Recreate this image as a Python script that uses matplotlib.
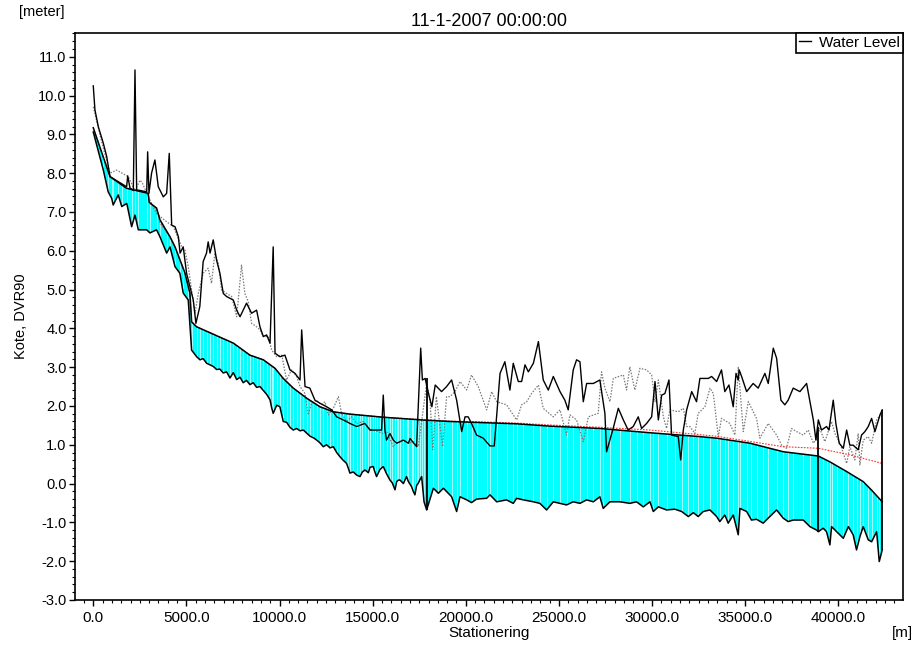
import numpy as np
import matplotlib
matplotlib.use("Agg")
import matplotlib.pyplot as plt
from matplotlib.ticker import MultipleLocator, FormatStrFormatter
from matplotlib.lines import Line2D

plt.rcParams['font.family'] = ['Liberation Sans', 'DejaVu Sans']

# ---- longitudinal profile data (chainage in m, level in m DVR90) ----
bed_x = [0, 540, 800, 990, 1070, 1340, 1530, 1800, 2060, 2240, 2420, 2870, 3040, 3400,
         3580, 3940, 4120, 4390, 4650, 4830, 5100, 5280, 5550, 5730, 5900, 6090, 6270,
         6440, 6620, 6800, 6980, 7160, 7340, 7520, 7700, 7880, 8050, 8230, 8410, 8590,
         8770, 8950, 9130, 9310, 9490, 9580, 9660, 9850, 10020, 10200, 10380, 10560,
         10740, 10920, 11100, 11280, 11460, 11640, 11820, 12000, 12170, 12350, 12530,
         12710, 12890, 13070, 13250, 13420, 13600, 13690, 13780, 13960, 14140, 14320,
         14450, 14590, 14770, 14860, 15030, 15120, 15210, 15390, 15570, 15750, 15930,
         16050, 16200, 16290, 16380, 16470, 16650, 16820, 16920, 17090, 17180, 17270,
         17360, 17450, 17540, 17630, 17760, 17900, 18260, 18530,
         18800, 19240, 19510, 19690, 20050, 20310, 20580, 21120, 21300, 21660, 22190,
         22550, 22730, 23090, 23630, 23980, 24340, 24700, 25060, 25410, 25770, 26130,
         26490, 26850, 27200, 27380, 27740, 28280, 28810, 29170, 29530, 29890, 30070,
         30340, 30780, 31230, 31590, 31950, 32220, 32480, 32750, 33110, 33470, 33640,
         33910, 34090, 34360, 34630, 34720, 35080, 35340, 35610, 35970, 36240, 36690,
         37040, 37310, 37580, 38120, 38480, 38840, 38930, 39190, 39370, 39550, 39640,
         39910, 40270, 40540, 40800, 40980, 41160, 41340, 41610, 41790, 42060, 42200,
         42360]
bed_z = [9.06, 8.08, 7.52, 7.35, 7.18, 7.44, 7.14, 7.22, 6.62, 6.92, 6.54, 6.54, 6.46, 6.54,
         6.36, 5.94, 6.10, 5.59, 5.42, 4.91, 4.73, 3.44, 3.27, 3.19, 3.22, 3.10, 3.06,
         3.02, 2.94, 2.95, 2.85, 2.88, 2.72, 2.86, 2.68, 2.74, 2.60, 2.66, 2.55, 2.60,
         2.48, 2.50, 2.40, 2.30, 2.16, 1.95, 1.81, 2.02, 1.98, 1.60, 1.58, 1.45,
         1.38, 1.42, 1.36, 1.38, 1.30, 1.22, 1.18, 1.12, 1.05, 0.95, 1.00,
         0.92, 0.95, 0.80, 0.69, 0.60, 0.52, 0.40, 0.27, 0.30, 0.22, 0.18,
         0.30, 0.35, 0.28, 0.42, 0.44, 0.30, 0.18, 0.36, 0.44, 0.25, 0.09,
         0.02, -0.16, 0.05, 0.09, 0.09, 0.00, 0.18, 0.05, -0.08, -0.20, -0.29,
         -0.05, 0.01, 0.10, 0.18, -0.47, -0.68, -0.12, -0.25,
         -0.12, -0.34, -0.72, -0.34, -0.42, -0.49, -0.40, -0.38, -0.29, -0.47, -0.42,
         -0.51, -0.38, -0.42, -0.47, -0.51, -0.68, -0.47, -0.51, -0.55, -0.47, -0.51,
         -0.42, -0.47, -0.34, -0.64, -0.47, -0.47, -0.51, -0.47, -0.60, -0.47, -0.72,
         -0.60, -0.68, -0.66, -0.72, -0.85, -0.75, -0.85, -0.72, -0.68, -0.85, -0.98,
         -0.81, -1.02, -0.81, -1.32, -0.64, -0.72, -0.94, -0.92, -1.02, -0.89, -0.68,
         -0.89, -0.98, -0.94, -0.94, -1.11, -1.20, -1.24, -1.15, -1.24, -1.58, -1.11,
         -1.24, -1.41, -1.11, -1.32, -1.71, -1.37, -1.11, -1.45, -1.50, -1.24, -2.01,
         -1.71]

wl_x = [0, 900, 1790, 2950, 3000, 3400, 3580, 4120, 4390, 4920, 5190, 5280, 5550, 7520,
        8410, 9130, 9760, 10200, 10740, 11460, 12170, 12890, 13780, 15570, 17630, 19150,
        20940, 22730, 24520, 27200, 29890, 32570, 33470, 35260, 37050, 38930, 39550,
        40450, 41340, 41790, 42360]
wl_z = [9.17, 7.91, 7.61, 7.48, 7.25, 7.10, 6.80, 6.36, 6.10, 5.43, 4.91, 4.17, 4.04, 3.62,
        3.31, 3.19, 2.97, 2.71, 2.46, 2.20, 1.98, 1.85, 1.79, 1.71, 1.64, 1.60,
        1.57, 1.54, 1.48, 1.42, 1.31, 1.21, 1.17, 1.04, 0.82, 0.71, 0.56,
        0.31, 0.05, -0.17, -0.47]

red_x = [0, 900, 1790, 2950, 3040, 3400, 3580, 4120, 4390, 4920, 5190, 5280, 5550, 7520,
         8410, 9130, 9760, 10200, 10740, 11460, 12170, 12890, 13780, 15570, 17630, 19150,
         20940, 22730, 24520, 27200, 29890, 33470, 37050, 38930, 40620, 42360]
red_z = [9.17, 7.91, 7.61, 7.48, 7.22, 7.10, 6.72, 6.36, 6.10, 5.43, 4.91, 4.17, 4.04, 3.62,
         3.31, 3.19, 2.97, 2.71, 2.46, 2.20, 1.98, 1.85, 1.79, 1.71, 1.65, 1.61,
         1.59, 1.56, 1.51, 1.45, 1.38, 1.22, 0.95, 0.91, 0.74, 0.52]

lb_x = [0, 90, 270, 540, 720, 900, 1790, 1850, 1970, 2150, 2240, 2330, 2870, 2920, 2990,
        3130, 3310, 3490, 3760, 3940, 4080, 4210, 4390, 4570, 4660, 4830, 5010, 5190, 5370,
        5510, 5720, 5900, 6080, 6170, 6270, 6440, 6620, 6800, 6980, 7160, 7520, 7700, 7880,
        8230, 8500, 8770, 8950, 9130, 9310, 9490, 9660, 9760, 10020, 10290, 10560, 10830,
        11100, 11190, 11370, 11630, 11900, 12170, 12530, 12800, 13070, 13420, 13780, 14140,
        14580, 14860, 15210, 15480, 15570, 15660, 15750, 15930, 16110, 16290, 16650, 16920,
        17010, 17360, 17580, 17670, 17820, 18000, 18180, 18360, 18700, 18970, 19240, 19510,
        19780, 19960, 20130, 20310, 20580, 20940, 21300, 21530, 21840, 22100, 22370, 22550,
        22820, 23000, 23180, 23360, 23630, 23900, 24160, 24430, 24700, 25060, 25320, 25500,
        25770, 25950, 26130, 26310, 26490, 26850, 27200, 27470, 27560, 27920, 28190, 28460,
        28720, 28990, 29260, 29440, 29710, 29980, 30160, 30340, 30520, 30690, 30910, 31050,
        31410, 31540, 31680, 31860, 32130, 32390, 32570, 33020, 33200, 33470, 33730, 33910,
        34130, 34360, 34510, 34630, 34680, 34810, 35080, 35430, 35700, 36060, 36240, 36510,
        36690, 36920, 37130, 37310, 37580, 37940, 38300, 38660, 38800, 38930, 39100, 39370,
        39500, 39730, 39870, 40050, 40270, 40450, 40620, 40800, 41070, 41250, 41430, 41610,
        41790, 41970, 42240, 42360]
lb_z = [10.25, 9.63, 9.20, 8.77, 8.43, 7.91, 7.65, 7.93, 7.62, 7.55, 10.66, 7.57, 7.52, 8.55,
        7.48, 8.00, 8.34, 7.65, 7.39, 7.48, 8.51, 6.66, 6.62, 6.36, 5.94, 6.10, 5.42, 5.07,
        4.73, 4.13, 4.56, 5.72, 5.94, 6.23, 5.94, 6.28, 5.76, 5.42, 4.90, 4.82, 4.73, 4.47,
        4.30, 4.65, 4.39, 4.47, 4.04, 3.79, 3.83, 3.62, 6.10, 3.36, 3.27, 3.31, 2.93, 2.84,
        2.67, 3.96, 2.50, 2.46, 2.15, 2.07, 1.98, 1.90, 1.72, 1.64, 1.55, 1.47,
        1.55, 1.38, 1.38, 1.38, 2.28, 1.38, 1.12, 1.29, 1.12, 1.04, 1.12, 1.04,
        1.16, 0.95, 3.49, 2.67, 2.71, 2.32, 1.98, 2.54, 2.37, 2.50, 2.67, 2.15,
        1.34, 1.72, 1.72, 1.55, 1.25, 1.17, 0.97, 0.97, 2.84, 3.14, 2.41, 3.10,
        2.63, 2.63, 3.06, 2.88, 3.10, 3.66, 2.67, 2.41, 2.76, 2.37, 2.15, 1.90,
        2.93, 3.19, 3.14, 2.11, 2.58, 2.58, 2.67, 1.81, 0.82, 1.43, 1.94, 1.64,
        1.38, 1.47, 1.72, 1.42, 1.55, 1.72, 2.63, 1.64, 2.28, 2.32, 2.67, 1.25,
        1.21, 0.61, 1.38, 1.90, 2.37, 2.11, 2.71, 2.71, 2.76, 2.63, 2.93, 2.37,
        2.54, 1.98, 2.84, 2.67, 2.93, 2.76, 2.37, 2.58, 2.46, 2.84, 2.58, 3.49,
        3.23, 2.15, 2.03, 2.15, 2.46, 2.37, 2.58, 1.64, 1.12, 1.64, 1.38, 1.47,
        1.38, 2.15, 1.55, 1.04, 0.91, 1.38, 0.99, 0.99, 0.87, 1.25, 1.34, 1.47,
        1.68, 1.34, 1.77, 1.90]

rb_x = [0, 130, 470, 900, 1250, 1880, 2240, 2510, 2640, 3040, 3400, 3800, 4300, 4750, 4920,
        5100, 5280, 5460, 5640, 5900, 6170, 6350, 6530, 6710, 6890, 7160, 7430, 7700, 7960,
        8140, 8320, 8500, 8770, 8950, 9130, 9400, 9580, 9850, 10120, 10380, 10650, 10920,
        11100, 11370, 11540, 11720, 11990, 12260, 12440, 12620, 12890, 13160, 13330, 13600,
        13870, 14140, 14500, 14860, 15210, 15570, 15750, 16110, 16290, 16650, 16920, 17180,
        17450, 17900, 18080, 18230, 18420, 18760, 18970, 19150, 19420, 19690, 20050, 20310,
        20670, 21120, 21390, 21660, 22190, 22550, 22730, 23000, 23270, 23530, 23900, 24160,
        24700, 25060, 25410, 25590, 25950, 26310, 26580, 27110, 27290, 27470, 27740, 27920,
        28460, 28630, 28810, 29080, 29350, 29710, 29980, 30160, 30340, 30610, 30780, 30960,
        31410, 31680, 31860, 32040, 32300, 32480, 32840, 33110, 33290, 33560, 33730, 34180,
        34450, 34630, 34900, 35170, 35610, 35790, 36240, 36690, 36960, 37220, 37490, 37760,
        38120, 38390, 38660, 38840, 39010, 39280, 39640, 39820, 40090, 40450, 40620, 40890,
        41070, 41160, 41340, 41610, 41790, 42060, 42240]
rb_z = [9.71, 9.45, 8.77, 8.00, 8.08, 7.91, 7.55, 7.82, 7.74, 7.31, 6.96, 6.80, 6.62, 6.10, 6.02,
        5.59, 4.99, 4.39, 4.90, 5.42, 5.55, 5.16, 5.94, 5.68, 4.99, 4.90, 4.82, 4.30, 5.63,
        4.90, 4.69, 4.13, 4.04, 3.96, 3.79, 3.79, 3.44, 3.27, 3.31, 2.67, 2.93, 2.76,
        2.50, 2.32, 1.77, 2.07, 2.15, 2.03, 2.11, 1.77, 1.94, 2.24, 1.81, 1.60,
        1.72, 1.55, 1.60, 1.38, 1.35, 1.29, 1.35, 0.95, 1.04, 1.12, 1.04, 1.08,
        0.95, 2.58, 2.15, 0.87, 2.24, 0.95, 2.24, 2.24, 2.37, 2.63, 2.41, 2.80,
        2.50, 1.90, 2.37, 2.11, 2.03, 1.77, 1.64, 2.03, 2.11, 2.32, 2.54, 1.94,
        1.72, 1.90, 1.25, 1.77, 1.64, 1.08, 1.72, 1.81, 2.88, 2.46, 2.11, 2.71,
        2.80, 2.41, 3.01, 2.41, 2.97, 2.93, 2.80, 2.11, 2.67, 1.72, 1.42, 1.90,
        1.85, 1.94, 1.47, 1.47, 1.29, 1.81, 1.98, 2.46, 2.32, 1.21, 1.68, 1.55,
        1.25, 3.01, 1.34, 2.11, 1.68, 1.17, 1.55, 1.25, 0.99, 0.91, 1.42, 1.34,
        1.25, 1.38, 1.04, 1.17, 1.42, 1.08, 1.60, 1.29, 1.04, 0.52, 0.95, 0.61,
        1.29, 0.48, 1.12, 1.21, 1.04, 1.64, 1.77]

# structures / section ends drawn as vertical bars (chainage, top, bottom)
struct_x = [17900, 38930, 42360]
struct_top = [2.71, 1.47, 1.90]
struct_bot = [-0.68, -1.24, -1.71]

fig = plt.figure(figsize=(9.13, 6.45), dpi=100)
ax = fig.add_axes([0.0821, 0.0698, 0.9069, 0.8795])

# water body between bed and water level
poly_x = np.concatenate([wl_x, bed_x[::-1]])
poly_z = np.concatenate([wl_z, bed_z[::-1]])
water = ax.fill(poly_x, poly_z, facecolor='#00ffff', edgecolor='none', zorder=1)[0]

# cross-section markers clipped to the water body
xs_lines = ax.vlines(bed_x, -3.0, 12.0, colors='white', linewidth=0.6, alpha=0.75, zorder=2)
xs_lines.set_clip_path(water)

ax.plot(rb_x, rb_z, color='#7a7a7a', linewidth=0.9, linestyle=(0, (1.2, 1.2)), zorder=3)
ax.plot(red_x, red_z, color='#ff3030', linewidth=0.8, linestyle=(0, (1.5, 1.2)), zorder=3)
ax.plot(lb_x, lb_z, color='black', linewidth=1.0, zorder=4)
ax.plot(bed_x, bed_z, color='black', linewidth=1.1, zorder=4)
ax.plot(wl_x, wl_z, color='black', linewidth=1.1, zorder=4)
ax.vlines(struct_x, struct_bot, struct_top, colors='black', linewidth=1.3, zorder=4)

ax.set_xlim(-983, 43473)
ax.set_ylim(-3.0, 11.62)

ax.xaxis.set_major_locator(MultipleLocator(5000))
ax.xaxis.set_minor_locator(MultipleLocator(500))
ax.yaxis.set_major_locator(MultipleLocator(1.0))
ax.yaxis.set_minor_locator(MultipleLocator(0.2))
ax.xaxis.set_major_formatter(FormatStrFormatter('%.1f'))
ax.yaxis.set_major_formatter(FormatStrFormatter('%.1f'))
ax.set_xticks([t for t in np.arange(0, 40001, 5000)])

ax.tick_params(which='major', direction='out', length=4, width=1.0, labelsize=10.5, pad=2)
ax.tick_params(axis='x', which='major', pad=4)
ax.tick_params(which='minor', direction='out', length=2.5, width=0.8)
for lab in ax.get_xticklabels():
    lab.set_fontsize(11)
for sp in ax.spines.values():
    sp.set_linewidth(1.2)

ax.set_title('11-1-2007 00:00:00', fontsize=13, pad=5)
ax.set_xlabel('Stationering', fontsize=11, labelpad=1)
ax.set_ylabel('Kote, DVR90', fontsize=10.5, labelpad=7)
fig.text(42 / 913, 1 - 12 / 645, '[meter]', fontsize=10.5, ha='center', va='center')
fig.text(902 / 913, 1 - 633 / 645, '[m]', fontsize=11, ha='center', va='center')

handle = Line2D([], [], color='black', linewidth=1.0)
leg = ax.legend([handle], ['Water Level'], loc='upper right', borderaxespad=0,
                fancybox=False, edgecolor='black', framealpha=1, fontsize=11,
                handlelength=0.8, handletextpad=0.5, borderpad=0.2)
leg.get_frame().set_linewidth(1.2)

fig.savefig('out.png', dpi=100)
